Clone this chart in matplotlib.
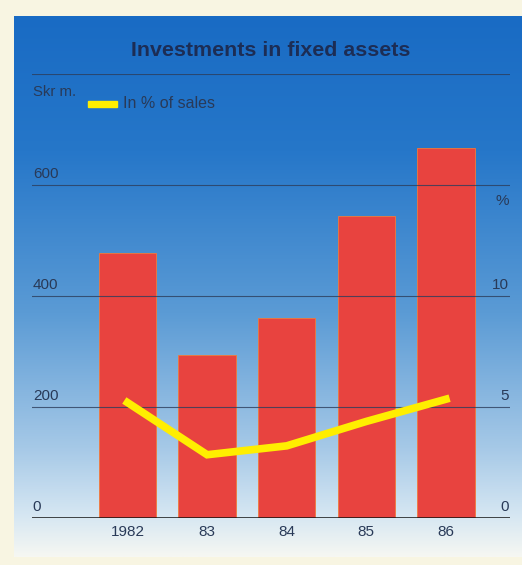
import numpy as np
import matplotlib
matplotlib.use("Agg")
import matplotlib.pyplot as plt
from matplotlib.colors import LinearSegmentedColormap

years = ["1982", "83", "84", "85", "86"]
invest = [478, 293, 360, 545, 667]          # Skr m.
pct_sales = [5.2, 2.85, 3.25, 4.35, 5.35]   # %
left_ticks = [0, 200, 400, 600]
right_ticks = [0, 5, 10]

plt.rcParams['font.family'] = ['Liberation Sans', 'DejaVu Sans']

fig = plt.figure(figsize=(5.22, 5.65), dpi=100)
fig.patch.set_facecolor('#f8f5e2')

# background panel with gradient
bg = fig.add_axes([14/522, 8/565, 1 - 14/522, (565 - 16 - 8)/565])
cmap = LinearSegmentedColormap.from_list('bg', [
    (0.0, '#196bc4'), (0.25, '#2677c9'), (0.55, '#5b9bd5'),
    (0.80, '#a6c9e7'), (0.93, '#d8e8f3'), (1.0, '#f6f7f2')])
grad = np.linspace(0, 1, 256).reshape(-1, 1)
bg.imshow(grad, aspect='auto', cmap=cmap, extent=[0, 1, 0, 1], origin='upper')
bg.set_axis_off()

ax = fig.add_axes([32/522, 47/565, 478/522, 444/565])
ax.patch.set_alpha(0)
x = np.arange(len(years))
ax.bar(x, invest, width=0.72, color='#e8433f', edgecolor='#f07a3a', linewidth=0.6, zorder=2)
ax.set_xlim(-1.2, 4.805)
ax.set_ylim(0, 800)

for t in left_ticks[1:] + [800]:
    ax.axhline(t, color='#2c3d5c', lw=0.8, alpha=0.8, zorder=3)
ax.axhline(0, color='#111111', lw=1.8, zorder=4)

ax2 = ax.twinx()
ax2.set_ylim(0, 20)
ax2.plot(x, pct_sales, color='#ffee00', lw=5.5, solid_joinstyle='miter', zorder=5)

for a in (ax, ax2):
    for s in a.spines.values():
        s.set_visible(False)
    a.set_xticks([])
    a.set_yticks([])

txtc = '#293a58'
for t in left_ticks:
    ax.text(-1.2 + 0.01, t + 8, str(t), ha='left', va='bottom', fontsize=11, color=txtc, zorder=6)
for t in right_ticks:
    ax2.text(4.79, t + 0.2, str(t), ha='right', va='bottom', fontsize=11, color=txtc, zorder=6)
ax2.text(4.79, 15 - 0.4, '%', ha='right', va='top', fontsize=11, color=txtc)

for xi, lab in zip(x, years):
    ax.text(xi, -12, lab, ha='center', va='top', fontsize=11, color=txtc)

fig.text(271/522, 1 - 50/565, 'Investments in fixed assets', ha='center', va='center',
         fontsize=15.4, fontweight='bold', color='#1c2d55')
fig.text(33/522, 1 - 92/565, 'Skr m.', ha='left', va='center', fontsize=10.7, color=txtc)
fig.patches.append(plt.Rectangle((88/522, 1 - 107/565), 29/522, 6/565,
                                 transform=fig.transFigure, color='#ffee00', zorder=6))
fig.text(123/522, 1 - 104/565, 'In % of sales', ha='left', va='center', fontsize=11.5, color=txtc)

fig.savefig('out.png', dpi=100, facecolor=fig.get_facecolor())
